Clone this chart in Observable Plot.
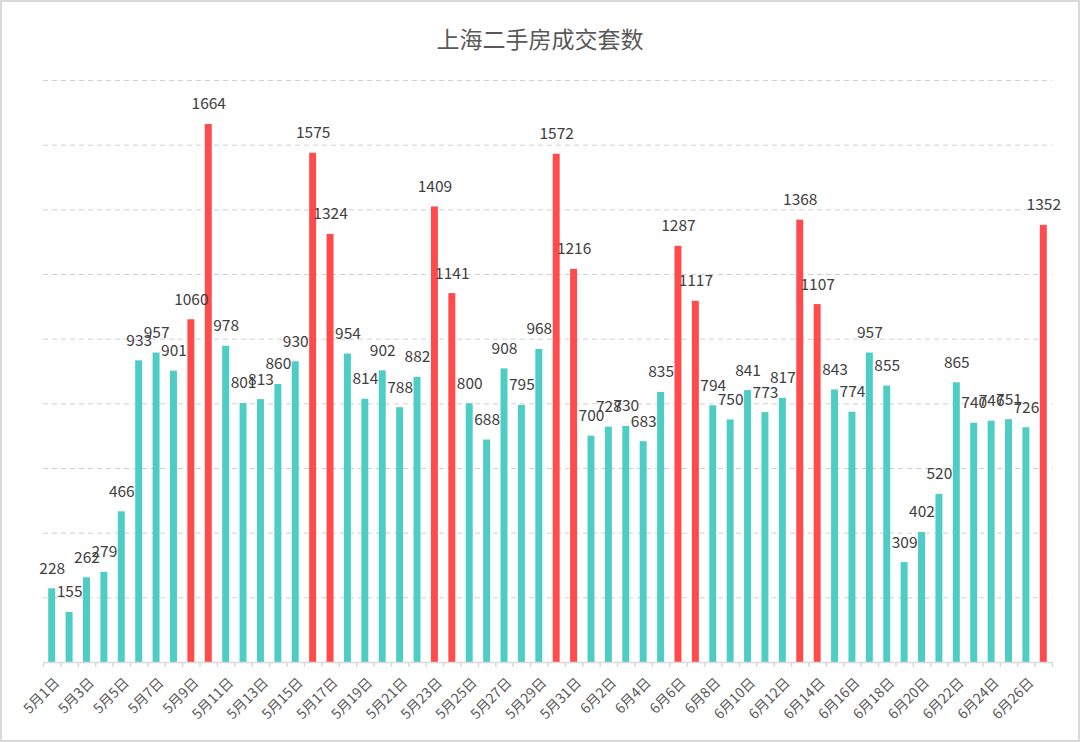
<!DOCTYPE html>
<html>
<head>
<meta charset="utf-8">
<script src="https://cdn.jsdelivr.net/npm/d3@7"></script>
<script src="https://cdn.jsdelivr.net/npm/@observablehq/plot@0.6"></script>
<style>
  html, body { margin: 0; padding: 0; background: #fff; }
  #wrap { position: relative; width: 1080px; height: 742px; overflow: hidden; font-family: "Noto Sans CJK SC", "Noto Sans", sans-serif; }
  #title { position: absolute; left: 0; top: 0; width: 1080px; height: 70px; line-height: 76px; text-align: center; font-size: 23px; color: #595959; }
  #chart { position: absolute; left: 0; top: 70px; }
  #border { position: absolute; left: 0; top: 0; width: 1080px; height: 742px; box-sizing: border-box; border: 2px solid #d9d9d9; pointer-events: none; }
</style>
</head>
<body>
<div id="wrap">
  <div id="title">上海二手房成交套数</div>
  <div id="chart"></div>
  <div id="border"></div>
</div>
<script>
const dates = [
  "5月1日","5月2日","5月3日","5月4日","5月5日","5月6日","5月7日","5月8日","5月9日","5月10日",
  "5月11日","5月12日","5月13日","5月14日","5月15日","5月16日","5月17日","5月18日","5月19日","5月20日",
  "5月21日","5月22日","5月23日","5月24日","5月25日","5月26日","5月27日","5月28日","5月29日","5月30日",
  "5月31日","6月1日","6月2日","6月3日","6月4日","6月5日","6月6日","6月7日","6月8日","6月9日",
  "6月10日","6月11日","6月12日","6月13日","6月14日","6月15日","6月16日","6月17日","6月18日","6月19日",
  "6月20日","6月21日","6月22日","6月23日","6月24日","6月25日","6月26日","6月27日"
];
const values = [
  228,155,262,279,466,933,957,901,1060,1664,
  978,801,813,860,930,1575,1324,954,814,902,
  788,882,1409,1141,800,688,908,795,968,1572,
  1216,700,728,730,683,835,1287,1117,794,750,
  841,773,817,1368,1107,843,774,957,855,309,
  402,520,865,740,746,751,726,1352
];
const highlighted = ["5月9日","5月10日","5月16日","5月17日","5月23日","5月24日","5月30日","5月31日",
  "6月6日","6月7日","6月13日","6月14日","6月27日"];
const tickLabels = dates.filter((d, i) => i % 2 === 0);
const gridValues = [200,400,600,800,1000,1200,1400,1600,1800];

const data = dates.map((d, i) => ({date: d, value: values[i], hi: highlighted.includes(d)}));

const W = 1080, H = 672, ML = 43, MR = 28, MT = 10, MB = 80;
const step = (W - ML - MR) / dates.length;

const chart = Plot.plot({
  width: W,
  height: H,
  marginLeft: ML,
  marginRight: MR,
  marginTop: MT,
  marginBottom: MB,
  style: {fontFamily: '"Noto Sans CJK SC", "Noto Sans", sans-serif', background: "transparent"},
  x: {domain: dates, paddingInner: 0.6, paddingOuter: 0.3, round: false, axis: null, label: null},
  y: {domain: [0, 1800], axis: null, label: null},
  marks: [
    Plot.ruleY(gridValues, {stroke: "#d0d0d0", strokeDasharray: "5,4", strokeWidth: 1}),
    Plot.barY(data, {x: "date", y: "value", fill: d => d.hi ? "#FF4B4B" : "#4ECDC4"}),
    Plot.ruleY([0], {stroke: "#d9d9d9", strokeWidth: 1.5}),
    Plot.axisX(dates, {tickSize: 5, tickFormat: () => "", label: null, dx: -step / 2, stroke: "#d9d9d9", strokeWidth: 1.5}),
    Plot.axisX([dates[dates.length - 1]], {tickSize: 5, tickFormat: () => "", label: null, dx: step / 2, stroke: "#d9d9d9", strokeWidth: 1.5}),
    Plot.axisX(tickLabels, {tickSize: 0, tickPadding: 18, tickRotate: -45, label: null, fontSize: 14, fill: "#595959", dx: 5}),
    Plot.text(data, {x: "date", y: "value", text: d => String(d.value), dy: -20, fontSize: 15.5, fill: "#404040"})
  ]
});
document.getElementById("chart").appendChild(chart);
</script>
</body>
</html>
